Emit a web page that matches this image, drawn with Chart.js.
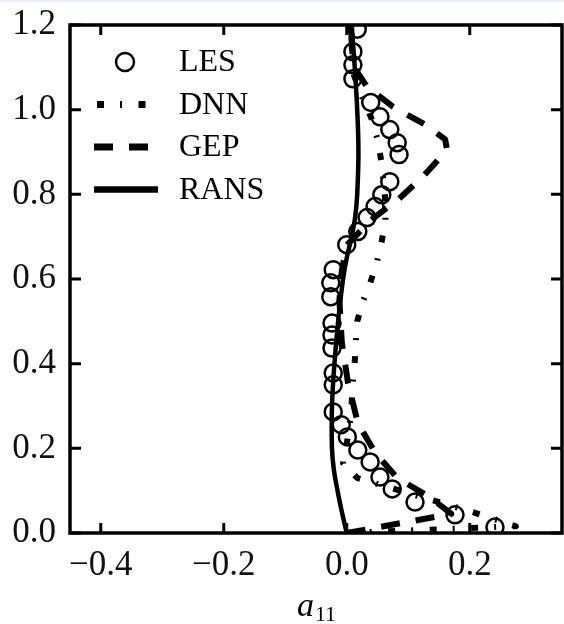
<!DOCTYPE html>
<html>
<head>
<meta charset="utf-8">
<script src="https://cdn.jsdelivr.net/npm/chart.js@4.4.0/dist/chart.umd.min.js"></script>
<style>
  body { margin: 0; background: #fff; }
  canvas { display: block; }
</style>
</head>
<body>
<canvas id="myChart" width="564" height="624"></canvas>
<script>
// LES (circles)
const lesY = [1.19, 1.137, 1.106, 1.073, 1.017, 0.983, 0.953, 0.922, 0.894, 0.830, 0.799, 0.771, 0.745, 0.712, 0.681,
    0.622, 0.591, 0.558, 0.496, 0.468, 0.437, 0.378, 0.350, 0.286, 0.256, 0.227, 0.196, 0.168, 0.132, 0.104, 0.073, 0.043, 0.014];
const lesX = [0.017, 0.010, 0.010, 0.010, 0.039, 0.054, 0.070, 0.082, 0.085, 0.070, 0.057, 0.046, 0.033, 0.018, 0.000,
    -0.022, -0.026, -0.026, -0.024, -0.024, -0.024, -0.022, -0.022, -0.022, -0.009, 0.001, 0.018, 0.038, 0.054, 0.074, 0.111, 0.176, 0.241];

// DNN
const dnnY = [0.0, 0.016, 0.047, 0.13, 0.165, 0.21, 0.26, 0.307, 0.357, 0.404, 0.456, 0.50, 0.546, 0.59, 0.64, 0.69, 0.74,
    0.80, 0.88, 0.93, 0.98, 1.03, 1.08, 1.14, 1.2];
const dnnX = [0.0, 0.275, 0.21, 0.017, -0.006, 0.0, 0.005, 0.008, 0.010, 0.013, 0.015, 0.017, 0.026, 0.038, 0.049, 0.057, 0.063,
    0.062, 0.056, 0.050, 0.040, 0.025, 0.012, 0.008, 0.008];

// GEP
const gepY = [0.0, 0.045, 0.085, 0.13, 0.19, 0.26, 0.355, 0.45, 0.55, 0.62, 0.68, 0.74, 0.787, 0.842, 0.905, 0.93, 0.965,
    1.007, 1.054, 1.1, 1.15, 1.2];
const gepX = [0.0, 0.17, 0.135, 0.082, 0.046, 0.018, 0.002, -0.008, -0.012, -0.008, 0.0, 0.04, 0.083, 0.124, 0.163, 0.16, 0.127,
    0.075, 0.033, 0.012, 0.008, 0.008];

// RANS
const ransY = [0.0, 0.05, 0.1, 0.15, 0.2, 0.3, 0.4, 0.5, 0.6, 0.65, 0.7, 0.75, 0.8, 0.9, 1.0, 1.1, 1.2];
const ransX = [0.0, -0.008, -0.015, -0.021, -0.024, -0.024, -0.020, -0.014, -0.006, 0.0, 0.008, 0.014, 0.017, 0.019, 0.017, 0.013, 0.008];

const xTicks = [-0.4, -0.2, 0.0, 0.2];
const yTicks = [0.0, 0.2, 0.4, 0.6, 0.8, 1.0, 1.2];

const serif = '"Liberation Serif", "Times New Roman", "DejaVu Serif", serif';
const toPoints = (xs, ys) => xs.map((x, i) => ({ x: x, y: ys[i] }));
const fmt = v => (v < -1e-9 ? '\u2212' : '') + Math.abs(v).toFixed(1);

// фиксированная область графика (как в оригинале)
const box = { left: 70, right: 562, top: 25, bottom: 533 };

const areaPlugin = {
    id: 'area',
    afterLayout(chart) {
        const a = chart.chartArea;
        Object.assign(a, box, { width: box.right - box.left, height: box.bottom - box.top });
        const xs = chart.scales.x, ys = chart.scales.y;
        Object.assign(xs, { left: box.left, right: box.right, width: box.right - box.left,
            top: box.bottom, bottom: chart.height, height: chart.height - box.bottom });
        Object.assign(ys, { left: 0, right: box.left, width: box.left,
            top: box.top, bottom: box.bottom, height: box.bottom - box.top });
        xs.configure();
        ys.configure();
    }
};

// рамка и внутренние засечки
const framePlugin = {
    id: 'frame',
    afterDatasetsDraw(chart) {
        const ctx = chart.ctx, a = chart.chartArea;
        const xs = chart.scales.x, ys = chart.scales.y;
        ctx.save();
        ctx.strokeStyle = '#000';
        ctx.lineWidth = 3;
        ctx.beginPath();
        xTicks.forEach(v => {
            const px = xs.getPixelForValue(v);
            ctx.moveTo(px, a.bottom); ctx.lineTo(px, a.bottom - 10);
            ctx.moveTo(px, a.top); ctx.lineTo(px, a.top + 10);
        });
        yTicks.forEach(v => {
            const py = ys.getPixelForValue(v);
            ctx.moveTo(a.left, py); ctx.lineTo(a.left + 11, py);
            ctx.moveTo(a.right, py); ctx.lineTo(a.right - 11, py);
        });
        ctx.stroke();
        ctx.lineWidth = 3.5;
        ctx.strokeRect(a.left, a.top, a.right - a.left, a.bottom - a.top);
        ctx.restore();
    }
};

// легенда внутри графика + подпись оси
const legendPlugin = {
    id: 'innerLegend',
    afterDraw(chart) {
        const ctx = chart.ctx;
        const rows = [62, 104.5, 147, 189.5];
        ctx.save();
        ctx.strokeStyle = '#000';
        ctx.fillStyle = '#000';
        chart.data.datasets.forEach((ds, i) => {
            const y = rows[i];
            ctx.beginPath();
            if (!ds.showLine) {
                ctx.lineWidth = 2.5;
                ctx.setLineDash([]);
                ctx.arc(125, y, 9, 0, Math.PI * 2);
            } else {
                ctx.lineWidth = ds.label === 'RANS' ? 6.5 : 7;
                ctx.setLineDash(ds.borderDash || []);
                ctx.moveTo(ds.label === 'DNN' ? 97 : 94, y);
                ctx.lineTo(158, y);
            }
            ctx.stroke();
            ctx.setLineDash([]);
            ctx.font = '32px ' + serif;
            ctx.textBaseline = 'middle';
            ctx.textAlign = 'left';
            ctx.fillText(ds.label, 179, y + 1);
        });

        // a_11
        ctx.textBaseline = 'alphabetic';
        ctx.font = 'italic 34px ' + serif;
        const wa = ctx.measureText('a').width;
        ctx.font = '22px ' + serif;
        const ws = ctx.measureText('11').width;
        const x0 = 316 - (wa + ws) / 2;
        ctx.font = 'italic 34px ' + serif;
        ctx.fillText('a', x0, 616);
        ctx.font = '22px ' + serif;
        ctx.fillText('11', x0 + wa + 1, 621);

        ctx.fillStyle = '#e8f1f8';
        ctx.fillRect(0, 0, chart.width, 2);
        ctx.restore();
    }
};

const data = {
    datasets: [{
        label: 'LES',
        data: toPoints(lesX, lesY),
        showLine: false,
        pointRadius: 8.5,
        pointBorderWidth: 2.5,
        pointBorderColor: '#000',
        pointBackgroundColor: 'rgba(0,0,0,0)',
        clip: 0
    }, {
        label: 'DNN',
        data: toPoints(dnnX, dnnY),
        showLine: true,
        borderColor: '#000',
        borderWidth: 6,
        borderDash: [7, 16, 2, 16.5],
        borderJoinStyle: 'round',
        pointRadius: 0,
        clip: 0
    }, {
        label: 'GEP',
        data: toPoints(gepX, gepY),
        showLine: true,
        borderColor: '#000',
        borderWidth: 6,
        borderDash: [19, 16],
        borderJoinStyle: 'round',
        pointRadius: 0,
        clip: 0
    }, {
        label: 'RANS',
        data: toPoints(ransX, ransY),
        showLine: true,
        borderColor: '#000',
        borderWidth: 4.5,
        tension: 0.4,
        pointRadius: 0,
        clip: 0
    }]
};

const tickFont = { family: serif, size: 35 };

const config = {
    type: 'scatter',
    data: data,
    options: {
        responsive: false,
        animation: false,
        devicePixelRatio: 1,
        layout: { padding: { top: 25, right: 2, left: 0, bottom: 0 } },
        plugins: { legend: { display: false }, tooltip: { enabled: false } },
        scales: {
            x: {
                type: 'linear',
                min: -0.45,
                max: 0.35,
                grid: { display: false, drawTicks: false },
                border: { display: false },
                afterBuildTicks: s => { s.ticks = xTicks.map(v => ({ value: v })); },
                ticks: { font: tickFont, color: '#111', padding: 12, maxRotation: 0, callback: fmt }
            },
            y: {
                type: 'linear',
                min: 0,
                max: 1.2,
                grid: { display: false, drawTicks: false },
                border: { display: false },
                afterBuildTicks: s => { s.ticks = yTicks.map(v => ({ value: v })); },
                ticks: { font: tickFont, color: '#111', padding: 14, callback: fmt }
            }
        }
    },
    plugins: [areaPlugin, framePlugin, legendPlugin]
};

const myChart = new Chart(document.getElementById('myChart'), config);
</script>
</body>
</html>
